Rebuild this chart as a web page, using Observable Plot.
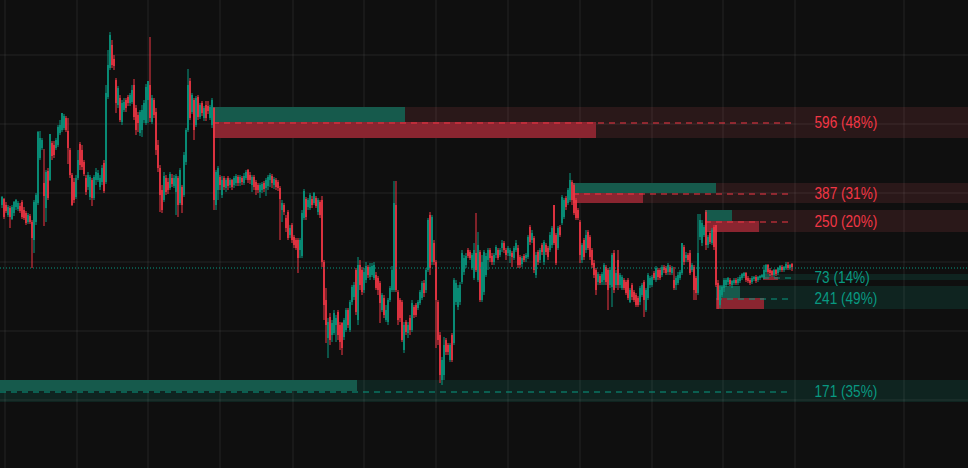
<!DOCTYPE html>
<html><head><meta charset="utf-8">
<script src="https://cdn.jsdelivr.net/npm/d3@7"></script>
<script src="https://cdn.jsdelivr.net/npm/@observablehq/plot@0.6"></script>
<style>html,body{margin:0;padding:0;background:#0f0f0f;overflow:hidden}</style>
</head><body><div id="chart"></div>
<script>
// ---- candle series (price units, one candle per bar) ----
const open = [
295,301,295,285,292,281,287,293,291,294,
298,290,287,278,284,278,260,278,297,342,
352,317,292,329,320,357,355,352,355,367,
370,372,382,369,350,325,318,303,322,356,
350,338,322,313,303,320,302,320,320,313,
318,337,318,403,432,455,441,420,395,402,
378,390,400,403,397,398,415,392,385,367,
370,380,377,400,415,378,400,388,355,332,
310,300,322,318,312,322,314,308,322,297,
313,305,338,370,419,388,400,375,403,383,
397,382,395,394,382,375,392,295,310,323,
305,322,312,322,315,320,315,317,323,317,
322,317,322,330,325,315,323,318,315,308,
310,317,312,314,320,324,315,320,318,312,
290,295,282,288,265,275,263,260,260,250,
244,282,301,293,292,301,297,302,288,298,
300,238,200,162,183,165,167,175,188,175,
177,163,170,190,170,198,203,230,180,235,
230,210,220,233,223,225,222,225,222,217,
190,202,180,178,200,210,210,295,208,200,
198,150,178,167,182,170,193,195,192,197,
202,217,210,230,285,238,257,238,198,165,
120,125,160,155,140,165,157,198,193,198,
218,228,235,250,248,232,222,247,220,248,
200,208,225,240,250,244,238,245,250,245,
252,257,250,247,244,247,242,250,252,243,
236,244,242,243,273,260,262,225,248,240,
255,238,255,252,250,255,295,265,252,273,
277,283,302,297,300,318,315,300,290,278,
240,260,250,268,263,250,237,230,218,224,
218,220,233,230,215,213,247,215,240,215,
212,220,218,220,198,215,208,205,202,198,
205,218,190,202,215,215,227,220,230,230,
225,233,232,228,233,227,220,215,217,222,
227,253,242,245,247,230,233,222,207,263,
257,265,288,255,267,257,273,275,217,195,
205,212,215,218,220,215,217,220,217,219,
222,224,227,222,220,218,221,223,220,222,
223,223,228,235,230,229,225,230,227,230,
233,230,232,235,232,236];
const high = [
304,302,298,295,294,295,299,301,299,297,
300,293,289,287,286,280,300,307,369,369,
362,351,330,332,366,359,359,362,375,380,
387,386,384,382,352,327,322,325,350,358,
355,340,325,328,325,322,325,332,330,325,
335,340,415,450,468,460,445,422,414,405,
400,402,402,405,407,415,421,395,388,390,
395,400,416,419,463,405,402,392,360,335,
315,328,325,322,328,326,325,326,324,332,
315,348,372,431,422,407,402,404,405,397,
399,394,399,399,395,402,393,330,334,325,
324,324,322,324,322,321,324,326,325,325,
324,327,330,331,328,325,325,320,317,317,
318,319,322,325,327,326,323,322,320,314,
300,297,285,290,275,277,265,262,262,262,
290,311,303,302,307,304,308,304,302,300,
304,240,212,182,187,180,190,185,190,178,
178,182,192,192,200,215,218,232,243,240,
233,232,238,235,237,237,238,228,224,219,
207,205,195,202,214,234,319,319,210,202,
200,178,180,178,185,200,195,197,200,210,
219,220,232,282,288,285,260,240,200,168,
143,163,162,157,157,167,222,220,215,218,
250,245,247,252,250,247,257,287,268,250,
245,250,247,252,252,247,247,255,252,252,
260,259,252,254,252,249,254,260,255,245,
244,246,247,265,275,270,264,248,250,252,
257,260,257,254,268,274,295,267,274,275,
305,302,304,312,327,320,317,302,292,280,
257,262,270,270,265,252,240,232,228,226,
228,237,235,232,233,247,250,230,250,227,
225,222,220,222,212,217,210,207,204,214,
217,220,212,227,224,225,229,234,232,232,
235,235,234,237,235,234,233,224,228,230,
257,255,248,247,250,237,235,224,286,286,
280,275,290,265,269,272,275,275,220,215,
215,222,222,223,222,220,222,222,223,225,
227,228,228,224,222,224,224,225,224,225,
226,235,236,236,232,230,231,231,233,235,
235,234,238,238,236,237];
const low = [
292,281,287,283,272,280,284,290,289,287,
281,280,275,276,276,232,247,275,295,340,
350,274,278,300,319,340,342,350,353,365,
368,370,368,336,322,294,297,301,320,330,
330,324,305,310,300,294,300,315,318,310,
315,307,316,401,430,432,430,387,392,378,
375,388,388,394,394,396,380,365,368,364,
363,377,375,377,378,376,382,345,328,288,
287,298,305,306,310,313,312,285,283,295,
287,303,335,368,380,386,360,373,380,381,
384,379,379,386,380,372,290,290,300,310,
302,310,308,310,312,310,312,314,314,314,
315,315,320,317,316,308,310,305,307,302,
307,308,304,310,313,312,311,310,309,260,
278,285,268,260,262,257,252,250,227,242,
242,280,280,290,290,292,295,292,285,282,
233,180,157,142,155,158,165,158,160,150,
145,160,168,172,168,195,200,185,175,210,
205,207,217,222,220,223,220,210,205,177,
188,182,178,175,198,208,208,208,175,178,
158,147,165,162,165,168,182,183,190,195,
200,203,207,228,225,235,235,152,155,117,
115,120,145,145,138,138,155,195,190,195,
216,225,232,242,240,230,220,228,218,198,
198,205,223,230,238,235,235,242,240,243,
248,247,240,244,237,233,240,248,232,232,
233,238,238,241,255,257,227,222,235,237,
245,235,245,240,248,252,255,235,250,263,
275,281,290,295,298,295,285,280,280,237,
237,240,247,250,240,232,222,205,215,215,
215,215,215,190,212,193,207,212,210,212,
210,210,205,200,197,200,198,193,193,195,
203,183,188,200,212,213,220,218,220,220,
223,227,225,225,225,225,210,210,215,220,
225,235,238,238,225,228,200,200,205,260,
254,263,250,252,256,255,250,213,191,192,
203,208,213,215,214,212,215,215,215,217,
220,222,218,217,215,216,219,217,218,220,
222,221,226,226,224,223,223,224,225,228,
228,228,230,230,230,229];
const close = [
303,283,289,293,283,293,298,300,297,289,
283,282,277,285,278,262,298,305,368,362,
360,304,328,302,366,344,345,360,373,375,
387,384,370,352,325,295,300,322,340,335,
333,326,308,325,323,302,323,328,327,322,
332,309,407,435,465,435,434,397,412,380,
397,398,392,397,405,410,383,370,377,388,
390,397,413,419,382,402,385,350,332,305,
290,324,308,310,326,316,322,324,295,330,
295,345,370,415,382,405,370,402,383,395,
387,392,382,389,393,400,300,328,332,315,
320,313,320,314,320,313,322,324,317,323,
318,324,328,320,320,323,313,310,310,315,
316,311,320,323,325,317,321,313,312,301,
297,288,272,262,272,260,255,252,242,260,
287,309,283,300,305,295,307,294,300,285,
238,195,175,178,160,177,187,182,165,158,
152,180,190,175,198,213,215,188,235,215,
208,228,234,225,233,234,235,212,210,197,
205,185,190,200,212,230,297,210,180,182,
160,175,168,175,170,197,185,185,198,208,
217,207,230,280,232,283,238,200,160,125,
140,155,148,148,155,140,220,217,212,215,
247,242,244,244,242,245,250,230,255,200,
238,248,244,250,242,238,245,253,242,250,
257,250,245,252,250,243,252,257,235,235,
242,240,245,263,258,267,230,245,238,250,
248,258,248,243,265,272,257,237,272,265,
303,300,293,310,320,300,287,282,282,245,
255,243,265,252,243,235,225,210,226,217,
226,235,218,210,230,245,210,227,215,225,
223,212,207,202,210,203,200,195,195,212,
215,200,210,225,222,223,222,232,223,222,
233,230,227,235,228,232,212,222,225,228,
257,238,245,240,227,235,210,207,247,280,
277,273,255,263,258,270,253,215,200,210,
213,220,220,222,216,219,220,217,221,223,
226,227,220,219,217,222,223,219,223,224,
225,230,235,228,227,225,230,226,232,234,
230,233,236,232,235,233];

// ---- order blocks (bar index / price units) ----
const blockStart  = [106, 286, 352, 381, 357.5, -0.5];
const blockTop    = [393, 317, 290, 226, 214, 120];
const blockMid    = [378, 307, 279, 223, 202, 109];
const blockBottom = [362, 297, 268, 220, 191, 98];
const buyEnd      = [202, 357.5, 365.5, 385, 369.5, 178];
const sellEnd     = [297.5, 321, 379, 388.5, 381.5, -0.5];
const blockVolume = [596, 387, 250, 73, 241, 171];
const blockShare  = [48, 31, 20, 14, 49, 35];
const blockSide   = ["bear", "bear", "bear", "bull", "bull", "bull"];

// ---- grid ticks ----
const gridTimes  = [1.5, 37.5, 73, 109, 145.5, 181, 217, 253, 289, 325, 360.5, 396.5, 451];
const gridPrices = [446, 377, 308, 239, 170, 101];

const UP = "#089981", DOWN = "#f23645";
const BG = "#0f0f0f";
const X_END = 483.5, DASH_END = 395.5, LABEL_X = 406.5;

const n = Math.min(open.length, high.length, low.length, close.length);
const candles = d3.range(n).map(i => ({t: i, o: open[i], h: high[i], l: low[i], c: close[i],
  col: close[i] >= open[i] ? UP : DOWN}));
const lastClose = close[n - 1];

const blocks = blockStart.map((s, i) => ({
  start: s, top: blockTop[i], mid: blockMid[i], bottom: blockBottom[i],
  buyEnd: buyEnd[i], sellEnd: sellEnd[i], bull: blockSide[i] === "bull",
  label: `${blockVolume[i]} (${blockShare[i]}%)`
}));

const chart = Plot.plot({
  width: 968, height: 468, margin: 0,
  x: {domain: [-0.5, 483.5], axis: null},
  y: {domain: [32, 500], axis: null},
  color: {type: "identity"},
  style: {background: BG, overflow: "hidden"},
  marks: [
    Plot.rect(blocks, {x1: "start", x2: () => X_END, y1: "bottom", y2: "top",
      fill: d => d.bull ? "#0f2420" : "#2a1819", inset: 0}),
    Plot.ruleX(gridTimes, {stroke: "#ffffff", strokeOpacity: 0.09, dx: 0.5}),
    Plot.ruleY(gridPrices, {stroke: "#ffffff", strokeOpacity: 0.09, dy: 0.5}),
    Plot.rect(blocks, {x1: "start", x2: "buyEnd", y1: "mid", y2: "top", fill: () => "#165a4c", inset: 0}),
    Plot.rect(blocks.filter(d => d.sellEnd > d.start), {x1: "start", x2: "sellEnd", y1: "bottom", y2: "mid", fill: () => "#8a2530", inset: 0}),
    Plot.ruleY(blocks, {y: "mid", x1: "start", x2: () => DASH_END, stroke: d => d.bull ? UP : DOWN,
      strokeDasharray: "6,5", dy: 0.5}),
    Plot.ruleX(candles, {x: "t", y1: "l", y2: "h", stroke: "col", dx: 0.5}),
    Plot.ruleX(candles, {x: "t", y1: "o", y2: "c", stroke: "col", strokeWidth: 1.6, dx: 0.5}),
    Plot.ruleY([lastClose], {stroke: UP, strokeDasharray: "1,2", dy: 0.5}),
    Plot.text(blocks, {x: () => LABEL_X, y: "mid", text: "label", fill: d => d.bull ? UP : DOWN,
      textAnchor: "start", fontSize: 16, fontFamily: "Liberation Sans, Arial, sans-serif"})
  ]
});
document.getElementById("chart").appendChild(chart);
chart.querySelectorAll("text").forEach(t => {
  const w = t.getComputedTextLength();
  if (w > 0) { t.setAttribute("textLength", (w * 0.85).toFixed(1)); t.setAttribute("lengthAdjust", "spacingAndGlyphs"); }
});
</script>
</body></html>
